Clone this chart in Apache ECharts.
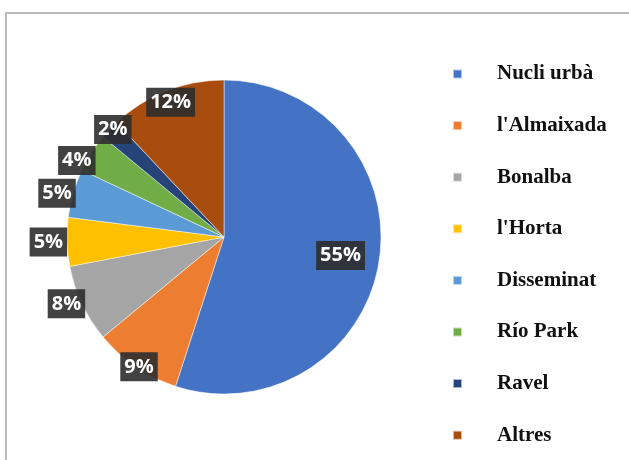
<!DOCTYPE html>
<html>
<head>
<meta charset="utf-8">
<script src="https://cdn.jsdelivr.net/npm/echarts@6/dist/echarts.min.js"></script>
<style>
  html, body { margin: 0; padding: 0; background: #fff; }
  #chart { width: 629px; height: 460px; }
</style>
</head>
<body>
<div id="chart"></div>
<script>
// Share of population by settlement (%)
const categories = ['Nucli urbà', "l'Almaixada", 'Bonalba', "l'Horta", 'Disseminat', 'Río Park', 'Ravel', 'Altres'];
const shares = [55, 9, 8, 5, 5, 4, 2, 12];
const colors = ['#4472C4', '#ED7D31', '#A5A5A5', '#FFC000', '#5B9BD5', '#70AD47', '#264478', '#A84D0E'];

const CENTER = [224, 237];
const RADIUS = 157;

const sliceData = categories.map((name, i) => ({
  name: name,
  value: shares[i],
  itemStyle: { color: colors[i] }
}));

// Value labels: dark boxes with white text
const labelStyle = {
  show: true,
  formatter: '{c}%',
  color: '#ffffff',
  fontFamily: 'Open Sans',
  fontWeight: 'bold',
  fontSize: 20,
  lineHeight: 23,
  backgroundColor: 'rgba(45,45,45,0.9)',
  padding: [3, 4, 3, 4],
  overflow: 'none'
};

// Invisible copy of the pie that only carries some of the labels
function labelLayer(radius, labelOpts, keep, avoid) {
  return {
    type: 'pie',
    center: CENTER,
    radius: radius,
    startAngle: 90,
    clockwise: true,
    silent: true,
    avoidLabelOverlap: avoid,
    minShowLabelAngle: 0,
    labelLayout: { hideOverlap: false },
    emphasis: { disabled: true },
    itemStyle: { color: 'rgba(0,0,0,0)', borderWidth: 0 },
    labelLine: { show: false, length: 0, length2: 0 },
    data: categories.map((name, i) => ({
      name: name,
      value: shares[i],
      itemStyle: { color: 'rgba(0,0,0,0)' },
      label: Object.assign({}, labelStyle, labelOpts, { show: keep(shares[i]) })
    }))
  };
}

const chart = echarts.init(document.getElementById('chart'), null, { renderer: 'canvas' });
chart.setOption({
  animation: false,
  backgroundColor: '#ffffff',
  graphic: [{
    type: 'rect',
    silent: true,
    shape: { x: 6, y: 13, width: 700, height: 600 },
    style: { fill: 'none', stroke: '#bcbcbc', lineWidth: 2 }
  }],
  legend: {
    orient: 'vertical',
    left: 447,
    top: 58,
    itemWidth: 9,
    itemHeight: 9,
    itemGap: 29.6,
    icon: 'rect',
    selectedMode: false,
    data: categories,
    textStyle: {
      fontFamily: 'Liberation Serif',
      fontWeight: 'bold',
      fontSize: 21,
      lineHeight: 22,
      color: '#111',
      padding: [0, 0, 0, 30]
    }
  },
  series: [
    {
      type: 'pie',
      center: CENTER,
      radius: RADIUS,
      startAngle: 90,
      clockwise: true,
      silent: true,
      label: { show: false },
      labelLine: { show: false },
      itemStyle: { borderColor: 'rgba(255,255,255,0.6)', borderWidth: 0.8 },
      data: sliceData
    },
    // small slices: label centred on the rim, spread apart where they collide
    labelLayer(RADIUS, { position: 'outside', alignTo: 'none', distanceToLabelLine: -22 }, v => v < 10, true),
    labelLayer([132, 152], { position: 'inside' }, v => v >= 10 && v < 50, false),
    labelLayer([105, 125], { position: 'inside' }, v => v >= 50, false)
  ]
});
</script>
</body>
</html>
